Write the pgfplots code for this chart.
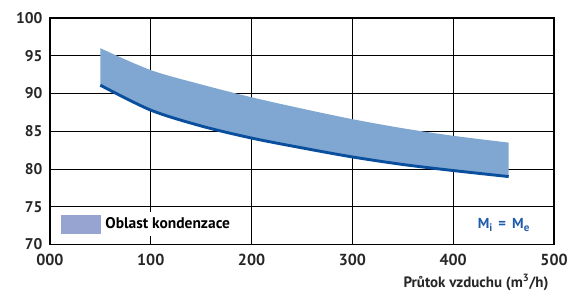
\documentclass[border=0pt]{standalone}
\usepackage{fontspec}
\setmainfont{PT Sans}
\usepackage{pgfplots}
\pgfplotsset{compat=1.18}
\usepgfplotslibrary{fillbetween}
\definecolor{bandcol}{HTML}{7FA7D1}
\definecolor{legcol}{HTML}{97A3D0}
\definecolor{linecol}{HTML}{0A4E9E}
\definecolor{txtblue}{HTML}{1E5BAA}
\begin{document}
\begin{tikzpicture}
\begin{axis}[
  scale only axis, width=505pt, height=227pt,
  xmin=0, xmax=500, ymin=70, ymax=100,
  xtick={0,100,200,300,400,500},
  xticklabels={000,100,200,300,400,500},
  ytick={70,75,80,85,90,95,100},
  yticklabels={70,75,80,85,90,95,100},
  xticklabel style={font=\fontsize{16}{18}\selectfont\bfseries, text=black!85, yshift=-6pt},
  yticklabel style={font=\fontsize{15.5}{17}\selectfont\bfseries, text=black!85, xshift=-4pt},
  major tick length=0pt,
  xtick style={draw=none}, ytick style={draw=none},
  grid=major,
  major grid style={black, line width=0.8pt},
  axis line style={black, line width=1.6pt},
  legend style={at={(axis cs:7,71.1)}, anchor=south west, draw=none, fill=white,
    font=\fontsize{15.5}{17}\selectfont\bfseries, inner xsep=4pt, inner ysep=3pt,
    legend cell align=left},
  clip=false,
]
\addplot[name path=up, draw=none, forget plot, smooth] coordinates {
 (50,96.0) (100,93.1) (150,91.2) (200,89.5) (250,88.0) (300,86.6) (350,85.4) (400,84.4) (455,83.5)};
\addplot[name path=lo, draw=none, forget plot, smooth] coordinates {
 (50,91.1) (100,87.8) (150,85.7) (200,84.1) (250,82.8) (300,81.6) (350,80.6) (400,79.8) (455,79.0)};
\addplot[fill=bandcol, draw=none, forget plot] fill between[of=up and lo];
\addplot[linecol, line width=2.9pt, smooth, forget plot] coordinates {
 (50,91.1) (100,87.8) (150,85.7) (200,84.1) (250,82.8) (300,81.6) (350,80.6) (400,79.8) (455,79.0)};
\addlegendimage{legend image code/.code={\fill[legcol] (0pt,-9pt) rectangle (39pt,9pt);}}
\addlegendentry{\hspace{3pt}Oblast kondenzace}
\node[text=txtblue, font=\fontsize{14.5}{16}\selectfont\bfseries, anchor=center] at (axis cs:450,72.6) {M\raisebox{-2.5pt}{\fontsize{11}{12}\selectfont i}\ \,=\ \,M\raisebox{-2.5pt}{\fontsize{11}{12}\selectfont e}};
\node[font=\fontsize{15}{17}\selectfont\bfseries, text=black!85, anchor=east] at ([yshift=-38pt,xshift=-2pt]rel axis cs:1,0) {Průtok vzduchu (m\textsuperscript{3}/h)};
\end{axis}
\pgfresetboundingbox
\path ([shift={(-50pt,-46pt)}]current axis.south west) rectangle ([shift={(14pt,18pt)}]current axis.north east);
\end{tikzpicture}
\end{document}
